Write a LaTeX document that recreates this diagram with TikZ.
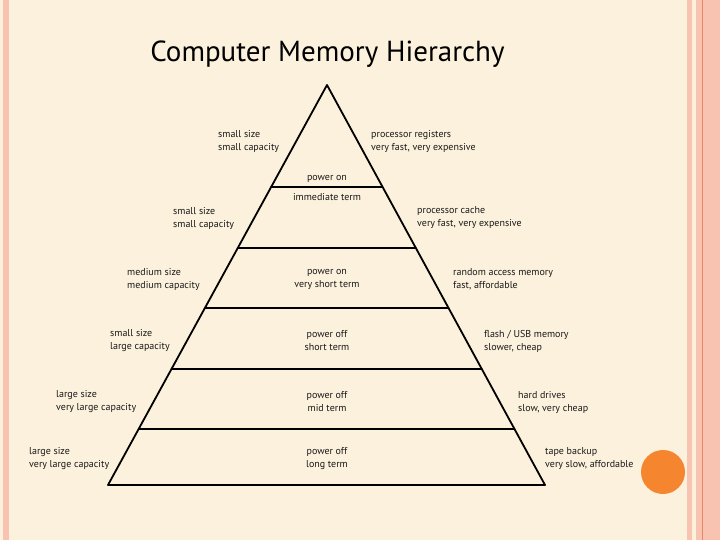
\documentclass[tikz,border=0pt]{standalone}
\usepackage{fontspec}
\setmainfont{PT Sans}
\usetikzlibrary{calc}
\definecolor{bgcream}{RGB}{252,241,220}
\definecolor{pinkstrip}{RGB}{248,195,176}
\definecolor{darkline}{RGB}{233,135,106}
\definecolor{orangedot}{RGB}{245,133,47}
\tikzset{
  lbl/.style={font=\fontsize{10}{13}\selectfont, align=left, anchor=west, inner sep=0pt, text=black!90},
  ctr/.style={font=\fontsize{10}{13}\selectfont, align=center, anchor=center, inner sep=0pt, text=black!90},
  edge/.style={line width=1.8pt, line cap=round, line join=round}
}
\begin{document}
\begin{tikzpicture}[x=1pt,y=-1pt]
\useasboundingbox (0,0) rectangle (720,540);
\fill[bgcream] (0,0) rectangle (720,540);
% borders
\fill[pinkstrip] (3,0) rectangle (9,540);
\fill[pinkstrip] (687,0) rectangle (692,540);
\fill[pinkstrip] (696,0) rectangle (720,540);
\fill[darkline] (702,0) rectangle (703.2,540);
\fill[orangedot] (663,472) circle (22);
% title
\node[font=\fontsize{29}{34}\selectfont, anchor=base, inner sep=0pt] (title) at (327.5,62) {Computer Memory Hierarchy};
% pyramid
\coordinate (A) at (327,85);
\coordinate (BL) at (108,485);
\coordinate (BR) at (545,485);
\draw[edge] (BL) -- (A) -- (BR) -- cycle;
\foreach \t/\n in {0.255/1,0.4075/2,0.5575/3,0.71/4,0.86/5}{
  \coordinate (L\n) at ($(A)!\t!(BL)$);
  \coordinate (R\n) at ($(A)!\t!(BR)$);
  \draw[edge] (L\n) -- (R\n);
}
% center labels
\node[ctr] (c0a) at (327,178.5) {power on};
\node[ctr] (c0b) at (327,197.5) {immediate term};
\node[ctr] (c2) at (327,279) {power on\\very short term};
\node[ctr] (c3) at (327,341) {power off\\short term};
\node[ctr] (c4) at (327,402) {power off\\mid term};
\node[ctr] (c5) at (327,459) {power off\\long term};
% left labels
\node[lbl] (l0) at (218,141) {small size\\small capacity};
\node[lbl] (l1) at (173,218) {small size\\small capacity};
\node[lbl] (l2) at (127,279) {medium size\\medium capacity};
\node[lbl] (l3) at (110,341) {small size\\large capacity};
\node[lbl] (l4) at (56,402) {large size\\very large capacity};
\node[lbl] (l5) at (29,459) {large size\\very large capacity};
% right labels
\node[lbl] (r0) at (371,141) {processor registers\\very fast, very expensive};
\node[lbl] (r1) at (417,218) {processor cache\\very fast, very expensive};
\node[lbl] (r2) at (453,279) {random access memory\\fast, affordable};
\node[lbl] (r3) at (484,341) {flash / USB memory\\slower, cheap};
\node[lbl] (r4) at (518,402) {hard drives\\slow, very cheap};
\node[lbl] (r5) at (545,459) {tape backup\\very slow, affordable};
\end{tikzpicture}
\end{document}
